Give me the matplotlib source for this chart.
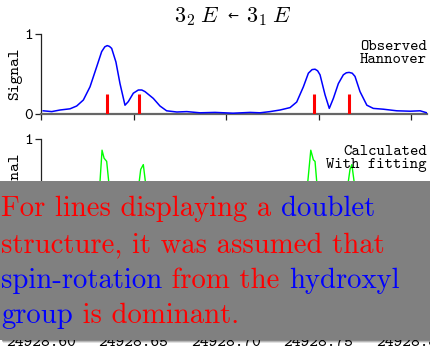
import matplotlib
matplotlib.use('Agg')
import matplotlib.pyplot as plt
from matplotlib.patches import Rectangle

plt.rcParams['mathtext.fontset'] = 'cm'
plt.rcParams['axes.formatter.use_mathtext'] = True

# observed spectrum (Hannover)
obs_freq = [24928.6012, 24928.6058, 24928.6103, 24928.6157, 24928.6193,
            24928.6229, 24928.6265, 24928.6301, 24928.6328, 24928.6345,
            24928.6358, 24928.6370, 24928.6382, 24928.6405, 24928.6427,
            24928.6454, 24928.6472, 24928.6499, 24928.6526, 24928.6545,
            24928.6562, 24928.6607, 24928.6643, 24928.6679, 24928.6734,
            24928.6788, 24928.6859, 24928.6941, 24928.7038, 24928.7130,
            24928.7184, 24928.7238, 24928.7292, 24928.7346, 24928.7382,
            24928.7418, 24928.7445, 24928.7465, 24928.7481, 24928.7495,
            24928.7508, 24928.7535, 24928.7558, 24928.7580, 24928.7607,
            24928.7634, 24928.7650, 24928.7665, 24928.7682, 24928.7697,
            24928.7724, 24928.7761, 24928.7796, 24928.7850, 24928.7923,
            24928.7995, 24928.8049, 24928.8085]
obs_signal = [0.04, 0.03, 0.05, 0.065, 0.10,
              0.175, 0.34, 0.59, 0.78, 0.84,
              0.855, 0.845, 0.82, 0.65, 0.38,
              0.11, 0.155, 0.26, 0.30, 0.30,
              0.28, 0.195, 0.10, 0.04, 0.025,
              0.03, 0.015, 0.02, 0.01, 0.02,
              0.015, 0.03, 0.05, 0.08, 0.15,
              0.34, 0.51, 0.555, 0.56, 0.54,
              0.49, 0.24, 0.07, 0.195, 0.38,
              0.49, 0.515, 0.52, 0.51, 0.47,
              0.28, 0.11, 0.07, 0.06, 0.04,
              0.035, 0.04, 0.015]

# assigned line positions
stick_freq = [24928.6357, 24928.6530, 24928.7476, 24928.7665]
stick_height = [0.25, 0.25, 0.25, 0.25]

# calculated spectrum with fitted parameters
calc_freq = [24928.6000, 24928.6286, 24928.6319, 24928.6330, 24928.6341,
             24928.6355, 24928.6366, 24928.6384, 24928.6514, 24928.6531,
             24928.6539, 24928.6553, 24928.6564, 24928.6578, 24928.7422,
             24928.7442, 24928.7458, 24928.7472, 24928.7481, 24928.7490,
             24928.7508, 24928.7643, 24928.7661, 24928.7670, 24928.7680,
             24928.7692, 24928.7708, 24928.8090]
calc_signal = [0.0, 0.02, 0.47, 0.86, 0.76,
               0.72, 0.47, 0.02, 0.02, 0.47,
               0.62, 0.68, 0.47, 0.02, 0.02,
               0.47, 0.86, 0.74, 0.72, 0.47,
               0.02, 0.02, 0.47, 0.62, 0.68,
               0.47, 0.02, 0.0]

xticks = [24928.60, 24928.65, 24928.70, 24928.75, 24928.80]
xlim = (24928.60, 24928.8086)

tt = 'cmtt10'
W, H = 430, 348

fig = plt.figure(figsize=(W / 100, H / 100), dpi=100)
fig.patch.set_facecolor('white')

panel_bottoms = [0.6724, 0.3707, 0.0690]
axes = [fig.add_axes([0.0953, b, 0.8977, 0.2299]) for b in panel_bottoms]

for i, ax in enumerate(axes):
    ax.set_xlim(*xlim)
    ax.set_ylim(0, 1)
    ax.set_xticks(xticks)
    ax.set_yticks([0, 1])
    ax.set_yticklabels(['0', '1'], fontfamily=tt, fontsize=12)
    ax.set_xticklabels(['%.2f' % t for t in xticks], fontfamily=tt, fontsize=12)
    if i < 2:
        ax.tick_params(axis='x', labelbottom=False)
    for side in ('top', 'right'):
        ax.spines[side].set_visible(False)
    ax.spines['left'].set_color('#222222')
    ax.spines['left'].set_linewidth(0.9)
    ax.spines['bottom'].set_color('#666666')
    ax.spines['bottom'].set_linewidth(1.6)
    ax.tick_params(length=4, width=0.9, color='#222222', pad=2)
    mid = (panel_bottoms[i] + 0.2299 / 2)
    fig.text(15 / W, mid, 'Signal', rotation=90, ha='center', va='center',
             fontfamily=tt, fontsize=12)
axes[2].tick_params(axis='x', pad=5)

ax1, ax2, ax3 = axes
ax1.plot(obs_freq, obs_signal, color='#0000ff', lw=1.1, zorder=3)
ax1.vlines(stick_freq, 0, stick_height, color='#ff0000', lw=2.2, zorder=4)
ax1.text(1.0, 0.93, 'Observed\nHannover', transform=ax1.transAxes, ha='right',
         va='top', fontfamily=tt, fontsize=11.5, linespacing=0.95)

# title: upper state <- lower state, with a small arrow in between
ty = 1 - 22 / H
fig.text(220 / W, ty, r'$\mathsf{3}_\mathsf{2}\;E$', ha='right', va='baseline',
         fontsize=16)
fig.text(232.5 / W, ty + 2 / H, '\u2190', ha='center', va='baseline',
         fontsize=9.5, family='DejaVu Sans')
fig.text(246 / W, ty, r'$\mathsf{3}_\mathsf{1}\;E$', ha='left', va='baseline',
         fontsize=16)

ax2.plot(calc_freq, calc_signal, color='#00ff00', lw=1.0, zorder=3)
ax2.text(1.0, 0.93, 'Calculated\nWith fitting', transform=ax2.transAxes, ha='right',
         va='top', fontfamily=tt, fontsize=11.5, linespacing=0.95)

# note box laid over the lower panels
box_y0, box_h = 8 / H, 159 / H
for k, a in enumerate([0.12, 0.18, 0.25]):
    d = (3 - k) / H
    fig.add_artist(Rectangle((0.004 + d * 0.3, box_y0 - d), 1.0, box_h,
                             transform=fig.transFigure, facecolor='black',
                             edgecolor='none', alpha=a, zorder=9))
fig.add_artist(Rectangle((0, box_y0), 1.0, box_h, transform=fig.transFigure,
                         facecolor='#808080', edgecolor='none', zorder=10))

note_lines = [
    [('For lines displaying a ', '#ff0000'), ('doublet', '#0000ff')],
    [('structure, it was assumed that', '#ff0000')],
    [('spin-rotation', '#0000ff'), (' from the ', '#ff0000'), ('hydroxyl', '#0000ff')],
    [('group', '#0000ff'), (' is dominant.', '#ff0000')],
]
baselines = [216, 252, 288, 323]
note_size = 20.7

renderer = fig.canvas.get_renderer()


def text_width(s):
    t = fig.text(0, 0, s, fontfamily='cmr10', fontsize=note_size)
    w = t.get_window_extent(renderer).width
    t.remove()
    return w


bar_w = text_width('|')
for parts, yb in zip(note_lines, baselines):
    prefix = ''
    for s, c in parts:
        x0 = 1 + (text_width(prefix + '|') - bar_w if prefix else 0)
        fig.text(x0 / W, 1 - yb / H, s, color=c, fontfamily='cmr10',
                 fontsize=note_size, ha='left', va='baseline', zorder=11)
        prefix += s

fig.savefig('out.png', dpi=100)
